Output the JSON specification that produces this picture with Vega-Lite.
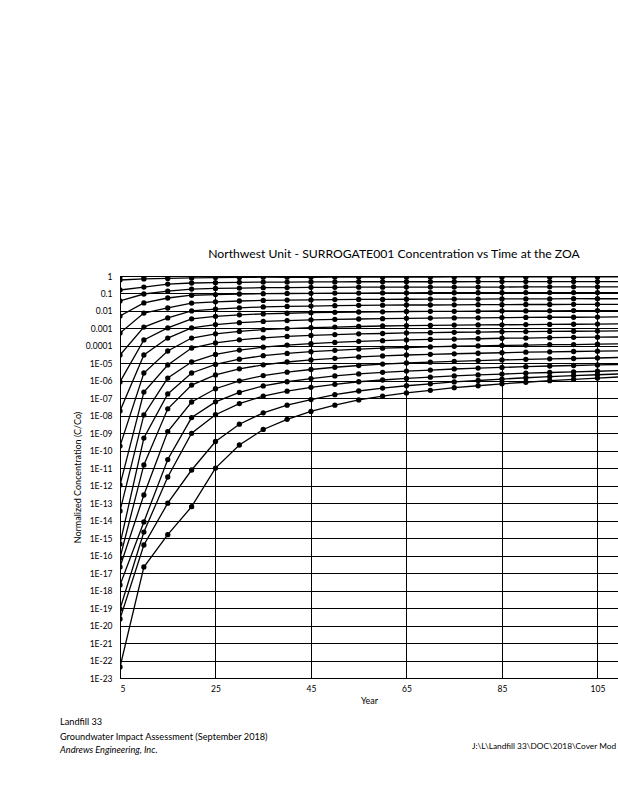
{
"$schema": "https://vega.github.io/schema/vega-lite/v6.json",
"autosize": {"type": "none"},
"padding": {"left": 120, "top": 276, "right": 0, "bottom": 122},
"width": 498,
"height": 402,
"background": "white",
"config": {"view": {"stroke": null}, "font": "Lato"},
"title": {"text": "Northwest Unit - SURROGATE001 Concentration vs Time at the ZOA", "font": "Lato", "fontSize": 12.2, "fontWeight": "normal", "color": "black", "anchor": "middle", "frame": "group", "dx": 25, "offset": 12},
"datasets": {
"conc": [
{"t":5,"a00":0.95,"a01":0.589,"a02":0.158,"a03":0.0372,"a04":5.13e-3,"a05":5.5e-4,"a06":3.02e-5,"a07":8.71e-7,"a08":1.91e-8,"a09":1.86e-10,"a10":1.1e-12,"a11":3.63e-14,"a12":4.68e-16,"a13":7.41e-17,"a14":2.24e-17,"a15":2.09e-18,"a16":8.91e-20,"a17":2.4e-20,"a18":4.27e-23},
{"t":10,"a00":0.95,"a01":0.676,"a02":0.234,"a03":0.0933,"a04":0.0288,"a05":7.59e-3,"a06":1.2e-3,"a07":2.19e-4,"a08":3.02e-5,"a09":2.82e-6,"a10":2.29e-7,"a11":1.12e-8,"a12":5.37e-10,"a13":1.55e-11,"a14":2.95e-13,"a15":8.51e-15,"a16":2.24e-15,"a17":4.07e-16,"a18":2.24e-17},
{"t":15,"a00":0.95,"a01":0.724,"a02":0.347,"a03":0.138,"a04":0.055,"a05":0.0148,"a06":3.98e-3,"a07":1.07e-3,"a08":2.82e-4,"a09":5.13e-5,"a10":8.13e-6,"a11":1.45e-6,"a12":1.78e-7,"a13":2.51e-8,"a14":1.26e-9,"a15":3.16e-11,"a16":3.16e-12,"a17":1e-13,"a18":1.58e-15},
{"t":20,"a00":0.95,"a01":0.776,"a02":0.398,"a03":0.178,"a04":0.0794,"a05":0.0282,"a06":0.01,"a07":3.55e-3,"a08":1.07e-3,"a09":2.82e-4,"a10":7.59e-5,"a11":1.2e-5,"a12":2.82e-6,"a13":5.75e-7,"a14":6.17e-8,"a15":7.94e-9,"a16":1e-9,"a17":7.94e-12,"a18":6.31e-14},
{"t":25,"a00":0.95,"a01":0.813,"a02":0.417,"a03":0.195,"a04":0.0871,"a05":0.0331,"a06":0.0129,"a07":4.9e-3,"a08":1.66e-3,"a09":4.9e-4,"a10":1.48e-4,"a11":3.24e-5,"a12":8.71e-6,"a13":2.19e-6,"a14":3.55e-7,"a15":6.31e-8,"a16":1.15e-8,"a17":3.39e-10,"a18":1.02e-11},
{"t":30,"a00":0.95,"a01":0.832,"a02":0.437,"a03":0.204,"a04":0.0933,"a05":0.0372,"a06":0.0151,"a07":6.03e-3,"a08":2.14e-3,"a09":6.76e-4,"a10":2.24e-4,"a11":5.75e-5,"a12":1.74e-5,"a13":4.9e-6,"a14":1e-6,"a15":2.19e-7,"a16":5.01e-8,"a17":3.31e-9,"a18":2.14e-10},
{"t":35,"a00":0.95,"a01":0.851,"a02":0.447,"a03":0.214,"a04":0.0977,"a05":0.0398,"a06":0.017,"a07":6.76e-3,"a08":2.51e-3,"a09":8.51e-4,"a10":2.88e-4,"a11":8.51e-5,"a12":2.75e-5,"a13":8.32e-6,"a14":2e-6,"a15":5.13e-7,"a16":1.35e-7,"a17":1.48e-8,"a18":1.66e-9},
{"t":40,"a00":0.95,"a01":0.851,"a02":0.447,"a03":0.219,"a04":0.1,"a05":0.0417,"a06":0.0182,"a07":7.41e-3,"a08":2.82e-3,"a09":9.77e-4,"a10":3.47e-4,"a11":1.12e-4,"a12":3.72e-5,"a13":1.2e-5,"a14":3.16e-6,"a15":8.91e-7,"a16":2.57e-7,"a17":4.07e-8,"a18":6.31e-9},
{"t":45,"a00":0.95,"a01":0.851,"a02":0.457,"a03":0.224,"a04":0.102,"a05":0.0427,"a06":0.0191,"a07":7.94e-3,"a08":3.09e-3,"a09":1.1e-3,"a10":3.98e-4,"a11":1.35e-4,"a12":4.68e-5,"a13":1.58e-5,"a14":4.47e-6,"a15":1.35e-6,"a16":4.27e-7,"a17":8.51e-8,"a18":1.78e-8},
{"t":50,"a00":0.95,"a01":0.871,"a02":0.457,"a03":0.224,"a04":0.105,"a05":0.0447,"a06":0.02,"a07":8.32e-3,"a08":3.31e-3,"a09":1.2e-3,"a10":4.47e-4,"a11":1.58e-4,"a12":5.62e-5,"a13":1.95e-5,"a14":6.03e-6,"a15":1.91e-6,"a16":6.31e-7,"a17":1.62e-7,"a18":4.07e-8},
{"t":55,"a00":0.95,"a01":0.871,"a02":0.468,"a03":0.229,"a04":0.105,"a05":0.0457,"a06":0.0209,"a07":8.71e-3,"a08":3.47e-3,"a09":1.29e-3,"a10":4.9e-4,"a11":1.82e-4,"a12":6.61e-5,"a13":2.34e-5,"a14":7.59e-6,"a15":2.51e-6,"a16":8.91e-7,"a17":2.63e-7,"a18":8.13e-8},
{"t":60,"a00":0.95,"a01":0.871,"a02":0.468,"a03":0.229,"a04":0.107,"a05":0.0457,"a06":0.0214,"a07":8.91e-3,"a08":3.63e-3,"a09":1.38e-3,"a10":5.13e-4,"a11":2e-4,"a12":7.41e-5,"a13":2.69e-5,"a14":9.12e-6,"a15":3.09e-6,"a16":1.12e-6,"a17":3.89e-7,"a18":1.35e-7},
{"t":65,"a00":0.95,"a01":0.871,"a02":0.468,"a03":0.234,"a04":0.107,"a05":0.0468,"a06":0.0219,"a07":9.33e-3,"a08":3.8e-3,"a09":1.45e-3,"a10":5.5e-4,"a11":2.19e-4,"a12":8.13e-5,"a13":3.02e-5,"a14":1.05e-5,"a15":3.63e-6,"a16":1.38e-6,"a17":5.25e-7,"a18":2.04e-7},
{"t":70,"a00":0.95,"a01":0.871,"a02":0.468,"a03":0.234,"a04":0.11,"a05":0.0479,"a06":0.0219,"a07":9.55e-3,"a08":3.89e-3,"a09":1.48e-3,"a10":5.75e-4,"a11":2.34e-4,"a12":8.71e-5,"a13":3.31e-5,"a14":1.17e-5,"a15":4.17e-6,"a16":1.62e-6,"a17":6.76e-7,"a18":2.88e-7},
{"t":75,"a00":0.95,"a01":0.891,"a02":0.468,"a03":0.234,"a04":0.11,"a05":0.0479,"a06":0.0224,"a07":9.55e-3,"a08":3.98e-3,"a09":1.55e-3,"a10":6.03e-4,"a11":2.45e-4,"a12":9.55e-5,"a13":3.55e-5,"a14":1.32e-5,"a15":4.79e-6,"a16":1.91e-6,"a17":8.71e-7,"a18":4.07e-7},
{"t":80,"a00":0.95,"a01":0.891,"a02":0.479,"a03":0.234,"a04":0.11,"a05":0.0479,"a06":0.0229,"a07":9.77e-3,"a08":4.07e-3,"a09":1.58e-3,"a10":6.17e-4,"a11":2.57e-4,"a12":1e-4,"a13":3.8e-5,"a14":1.45e-5,"a15":5.37e-6,"a16":2.19e-6,"a17":1.05e-6,"a18":5.25e-7},
{"t":85,"a00":0.95,"a01":0.891,"a02":0.479,"a03":0.234,"a04":0.11,"a05":0.049,"a06":0.0229,"a07":0.01,"a08":4.17e-3,"a09":1.62e-3,"a10":6.46e-4,"a11":2.75e-4,"a12":1.07e-4,"a13":4.07e-5,"a14":1.58e-5,"a15":5.89e-6,"a16":2.45e-6,"a17":1.26e-6,"a18":6.76e-7},
{"t":90,"a00":0.95,"a01":0.891,"a02":0.479,"a03":0.24,"a04":0.112,"a05":0.049,"a06":0.0234,"a07":0.01,"a08":4.27e-3,"a09":1.66e-3,"a10":6.61e-4,"a11":2.82e-4,"a12":1.12e-4,"a13":4.37e-5,"a14":1.7e-5,"a15":6.46e-6,"a16":2.75e-6,"a17":1.51e-6,"a18":8.32e-7},
{"t":95,"a00":0.95,"a01":0.891,"a02":0.479,"a03":0.24,"a04":0.112,"a05":0.049,"a06":0.0234,"a07":0.0102,"a08":4.37e-3,"a09":1.7e-3,"a10":6.76e-4,"a11":2.95e-4,"a12":1.17e-4,"a13":4.57e-5,"a14":1.82e-5,"a15":7.08e-6,"a16":3.02e-6,"a17":1.74e-6,"a18":1.02e-6},
{"t":100,"a00":0.95,"a01":0.891,"a02":0.479,"a03":0.24,"a04":0.112,"a05":0.0501,"a06":0.024,"a07":0.0105,"a08":4.37e-3,"a09":1.74e-3,"a10":6.92e-4,"a11":3.09e-4,"a12":1.2e-4,"a13":4.79e-5,"a14":1.91e-5,"a15":7.59e-6,"a16":3.24e-6,"a17":2e-6,"a18":1.23e-6},
{"t":105,"a00":0.95,"a01":0.891,"a02":0.479,"a03":0.24,"a04":0.112,"a05":0.0501,"a06":0.024,"a07":0.0105,"a08":4.47e-3,"a09":1.78e-3,"a10":7.08e-4,"a11":3.16e-4,"a12":1.26e-4,"a13":5.01e-5,"a14":2.04e-5,"a15":8.13e-6,"a16":3.55e-6,"a17":2.24e-6,"a18":1.45e-6},
{"t":110,"a00":0.95,"a01":0.891,"a02":0.479,"a03":0.24,"a04":0.112,"a05":0.0501,"a06":0.024,"a07":0.0105,"a08":4.57e-3,"a09":1.82e-3,"a10":7.24e-4,"a11":3.24e-4,"a12":1.32e-4,"a13":5.25e-5,"a14":2.19e-5,"a15":8.71e-6,"a16":3.89e-6,"a17":2.51e-6,"a18":1.7e-6}
]
},
"layer": [
{
"data": {"name": "conc"},
"transform": [{"fold": ["a00","a01","a02","a03","a04","a05","a06","a07","a08","a09","a10","a11","a12","a13","a14","a15","a16","a17","a18"], "as": ["series", "value"]}],
"mark": {"type": "line", "color": "black", "strokeWidth": 1.3, "clip": true, "point": {"filled": true, "color": "black", "size": 28}},
"encoding": {
"x": {"field": "t", "type": "quantitative", "scale": {"domain": [5, 109.3], "nice": false, "zero": false},
"axis": {"values": [5, 25, 45, 65, 85, 105], "grid": true, "gridColor": "black", "gridWidth": 1, "gridOpacity": 1, "domainColor": "black", "domainWidth": 1, "ticks": false, "labelFont": "Lato", "labelFontSize": 8.5, "labelColor": "black", "labelPadding": 6, "title": "Year", "titleFont": "Lato", "titleFontSize": 9, "titleFontWeight": "normal", "titleColor": "black", "titlePadding": 4}},
"y": {"field": "value", "type": "quantitative", "scale": {"type": "log", "domain": [1e-23, 1], "nice": false},
"axis": {"values": [1, 0.1, 0.01, 0.001, 0.0001, 1e-5, 1e-6, 1e-7, 1e-8, 1e-9, 1e-10, 1e-11, 1e-12, 1e-13, 1e-14, 1e-15, 1e-16, 1e-17, 1e-18, 1e-19, 1e-20, 1e-21, 1e-22, 1e-23],
"labelExpr": "datum.value >= 0.00009 ? format(datum.value, '') : '1E-' + (round(-log(datum.value)/LN10) < 10 ? '0' : '') + round(-log(datum.value)/LN10)",
"grid": true, "gridColor": "black", "gridWidth": 1, "gridOpacity": 1, "domainColor": "black", "domainWidth": 1, "ticks": false, "labelFont": "Lato", "labelFontSize": 8.5, "labelColor": "black", "labelPadding": 8, "labelOverlap": false, "title": "Normalized Concentration (C/Co)", "titleFont": "Lato", "titleFontSize": 9, "titleFontWeight": "normal", "titleColor": "black", "titlePadding": 3}},
"detail": {"field": "series"}
}
},
{"data": {"values": [{}]}, "mark": {"type": "text", "text": "Landfill 33", "align": "left", "baseline": "middle", "font": "Lato", "fontSize": 9.2, "color": "black"}, "encoding": {"x": {"datum": -7.57}, "y": {"datum": 3.0e-26}}},
{"data": {"values": [{}]}, "mark": {"type": "text", "text": "Groundwater Impact Assessment (September 2018)", "align": "left", "baseline": "middle", "font": "Lato", "fontSize": 9.2, "color": "black"}, "encoding": {"x": {"datum": -7.57}, "y": {"datum": 4.2e-27}}},
{"data": {"values": [{}]}, "mark": {"type": "text", "text": "Andrews Engineering, Inc.", "align": "left", "baseline": "middle", "font": "Lato", "fontSize": 9.2, "fontStyle": "italic", "color": "black"}, "encoding": {"x": {"datum": -7.57}, "y": {"datum": 7.6e-28}}},
{"data": {"values": [{}]}, "mark": {"type": "text", "text": "J:\\L\\Landfill 33\\DOC\\2018\\Cover Mod", "align": "left", "baseline": "middle", "font": "Lato", "fontSize": 8.3, "color": "black"}, "encoding": {"x": {"datum": 78.7}, "y": {"datum": 1.12e-27}}}
]
}
